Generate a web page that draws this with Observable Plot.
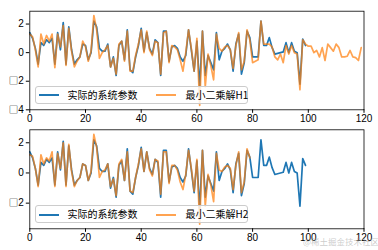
<!DOCTYPE html>
<html>
<head>
<meta charset="utf-8">
<script src="https://cdn.jsdelivr.net/npm/d3@7"></script>
<script src="https://cdn.jsdelivr.net/npm/@observablehq/plot@0.6"></script>
<style>
  html, body { margin: 0; padding: 0; background: #fff; }
  #fig { position: relative; width: 378px; height: 250px; overflow: hidden; background: #fff; }
  .panel { position: absolute; left: 0; }
  .legend { position: absolute; left: 34.5px; width: 213px; height: 18px; border: 1px solid #cccccc; border-radius: 3px; background: rgba(255,255,255,0.8); box-sizing: border-box; font-family: "Noto Sans CJK SC", sans-serif; font-size: 10px; color: #000; }
  .legend .sw { position: absolute; top: 7.5px; height: 0; border-top: 2px solid; width: 20px; }
  .legend .lb { position: absolute; top: 0; line-height: 16px; white-space: nowrap; }
  .wm { position: absolute; left: 303px; top: 235px; font-family: "Noto Sans CJK SC", sans-serif; font-size: 8.5px; color: rgba(160,160,160,0.55); white-space: nowrap; }
</style>
</head>
<body>
<div id="fig"></div>
<script>
// Actual system parameters (x = 0..99)
const actual = [1.4, 1.0, 0.3, -0.8, 0.7, 0.5, 0.9, 0.7, 1.0, -0.8,
  1.4, 0.2, 2.1, -0.8, 1.8, 0.2, -0.8, -0.5, -0.3, 0.6,
  0.5, -0.5, 0.0, 2.2, 1.8, 0.3, 0.1, 0.1, 0.6, -1.0,
  -0.3, -1.6, 0.5, 0.8, -0.5, 1.6, -1.2, -1.4, -0.3, 0.5,
  1.7, 0.1, 1.4, 0.3, -0.1, 0.9, 0.7, -1.6, 1.5, 1.5,
  -0.6, 0.4, 0.5, 0.3, -0.3, -0.6, -0.2, 1.6, 0.2, -1.3,
  0.8, -2.4, 1.5, -1.6, -0.2, -0.7, -1.2, 1.4, -0.5, 0.1,
  0.3, 0.6, 0.2, -1.3, 0.6, 1.3, -1.5, -0.7, 1.5, 1.05,
  -0.3, -0.3, -0.3, 2.2, 0.5, 0.5, 1.05, 0.35, -0.1, -0.05,
  0.0, 0.05, 0.7, 0.0, 0.7, 0.1, 0.0, -2.2, 0.95, 0.5];

// Least-squares solution H1 (x = 0..119)
const estH1 = [1.3, 1.1, 0.2, -1.0, 1.3, 0.6, 1.2, 0.8, 1.3, -1.05,
  1.3, 0.4, 1.9, -0.9, 1.7, 0.1, -1.0, -0.6, -0.3, 0.8,
  0.4, -0.6, 0.1, 2.6, 1.6, -0.4, 0.0, 0.2, 0.5, -1.0,
  -0.4, -1.5, 0.6, 0.8, -0.6, 1.5, -1.3, -1.3, -0.2, 0.6,
  1.6, 0.0, 1.5, 0.2, -0.2, 0.8, 0.7, -1.5, 1.4, 1.5,
  -0.7, 0.5, 0.4, 0.2, -0.5, -1.3, 0.0, 1.6, 0.3, -1.3,
  1.0, -3.7, 1.5, -2.4, -0.1, -0.9, -1.9, 1.3, 0.3, 0.1,
  0.4, 0.5, 0.2, -1.1, 0.5, 1.4, -1.2, -0.6, 1.6, 0.9,
  -0.7, -0.6, -0.5, 2.2, 0.6, 0.6, 0.6, 0.4, -0.3, -0.5,
  -0.1, -0.7, 0.5, -0.1, 0.5, 0.0, -0.1, -2.6, 0.9, 0.6,
  0.45, 0.45, 0.0, 0.15, -0.3, 0.35, -0.55, 0.6, 0.35, 0.1,
  0.6, 0.35, -0.3, -0.3, -0.25, 0.15, -0.3, -0.35, -0.55, 0.35];

// Least-squares solution H2 (x = 0..79)
const estH2 = [1.2, 1.1, 0.3, -0.9, 1.2, 0.6, 1.0, 0.8, 1.4, -0.9,
  1.3, 0.3, 2.0, -0.9, 1.9, 0.1, -0.9, -0.5, -0.3, 0.6,
  0.5, -0.5, 0.1, 2.56, 1.7, -0.3, 0.1, 0.2, 0.6, -0.9,
  -0.4, -1.5, 0.6, 0.9, -0.5, 1.4, -1.2, -1.3, -0.3, 0.6,
  1.6, 0.1, 1.4, 0.2, -0.2, 0.9, 0.8, -1.4, 1.4, 1.4,
  -0.7, 0.5, 0.5, 0.2, -0.6, -1.1, -0.1, 1.5, 0.3, -1.2,
  0.9, -3.4, 1.5, -2.2, -0.1, -0.8, -1.9, 1.3, 0.2, 0.1,
  0.4, 0.5, 0.3, -1.1, 0.5, 1.4, -1.3, -0.6, 1.6, 1.0];

const xTicks = [0, 20, 40, 60, 80, 100, 120];
const xTickLabels = ["0", "20", "40", "60", "80", "100", "120"];
const yTicksTop = [2, 0, -2, -4];
const yTickLabelsTop = ["2", "0", "\u25A12", "\u25A14"];
const yTicksBottom = [2, 0, -2];
const yTickLabelsBottom = ["2", "0", "\u25A12"];
const seriesNames = ["实际的系统参数", "最小二乘解H1", "最小二乘解H2"];
const watermark = "@稀土掘金技术社区";

const BLUE = "#1f77b4", ORANGE = "#ff7f0e";
const fig = document.getElementById("fig");

function panel(est, yDomain, yTicks, yLabels, mt, mb) {
  const svg = Plot.plot({
    width: 378, height: 125,
    marginLeft: 29.3, marginRight: 14.5, marginTop: mt, marginBottom: mb,
    x: {domain: [0, 120]},
    y: {domain: yDomain},
    style: {fontFamily: "'Liberation Sans', 'DejaVu Sans', sans-serif", fontSize: "10px", color: "#000", background: "transparent", overflow: "visible"},
    marks: [
      Plot.line(actual, {x: (d, i) => i, y: d => d, stroke: BLUE, strokeWidth: 1.7}),
      Plot.line(est, {x: (d, i) => i, y: d => d, stroke: ORANGE, strokeOpacity: 0.72, strokeWidth: 1.7}),
      Plot.frame({stroke: "#000", strokeWidth: 0.8}),
      Plot.axisX({ticks: xTicks, tickSize: 3.5, tickPadding: 2, label: null, fontSize: 10,
        tickFormat: d => xTickLabels[xTicks.indexOf(d)]}),
      Plot.axisY({ticks: yTicks, tickSize: 3.5, tickPadding: 2.5, label: null, fontSize: 10,
        tickFormat: d => yLabels[yTicks.indexOf(d)]})
    ]
  });
  // render the missing-glyph box with a full-width CJK box glyph
  d3.select(svg).selectAll("text").each(function () {
    const t = this.textContent;
    if (t.startsWith("\u25A1")) {
      const sel = d3.select(this);
      sel.text(null);
      sel.append("tspan").style("font-family", "'Noto Sans CJK SC'").style("font-size", "9.5px").text("\u25A1");
      sel.append("tspan").text(t.slice(1));
    }
  });
  return svg;
}

const top1 = panel(estH1, [-4.0, 2.9], yTicksTop, yTickLabelsTop, 10.7, 15.7);
top1.classList.add("panel"); top1.style.top = "0px";
fig.appendChild(top1);

const bot = panel(estH2, [-3.7, 2.86], yTicksBottom, yTickLabelsBottom, 4.3, 21.7);
bot.classList.add("panel"); bot.style.top = "125px";
fig.appendChild(bot);

function legend(topPx, estName) {
  const lg = document.createElement("div");
  lg.className = "legend";
  lg.style.top = topPx + "px";
  lg.innerHTML =
    `<div class="sw" style="left:3px;border-color:${BLUE}"></div>` +
    `<div class="lb" style="left:32px">${seriesNames[0]}</div>` +
    `<div class="sw" style="left:120px;border-color:${ORANGE};opacity:0.72"></div>` +
    `<div class="lb" style="left:150px">${estName}</div>`;
  fig.appendChild(lg);
}
legend(85.7, seriesNames[1]);
legend(205, seriesNames[2]);

const wm = document.createElement("div");
wm.className = "wm";
wm.textContent = watermark;
fig.appendChild(wm);
</script>
</body>
</html>
